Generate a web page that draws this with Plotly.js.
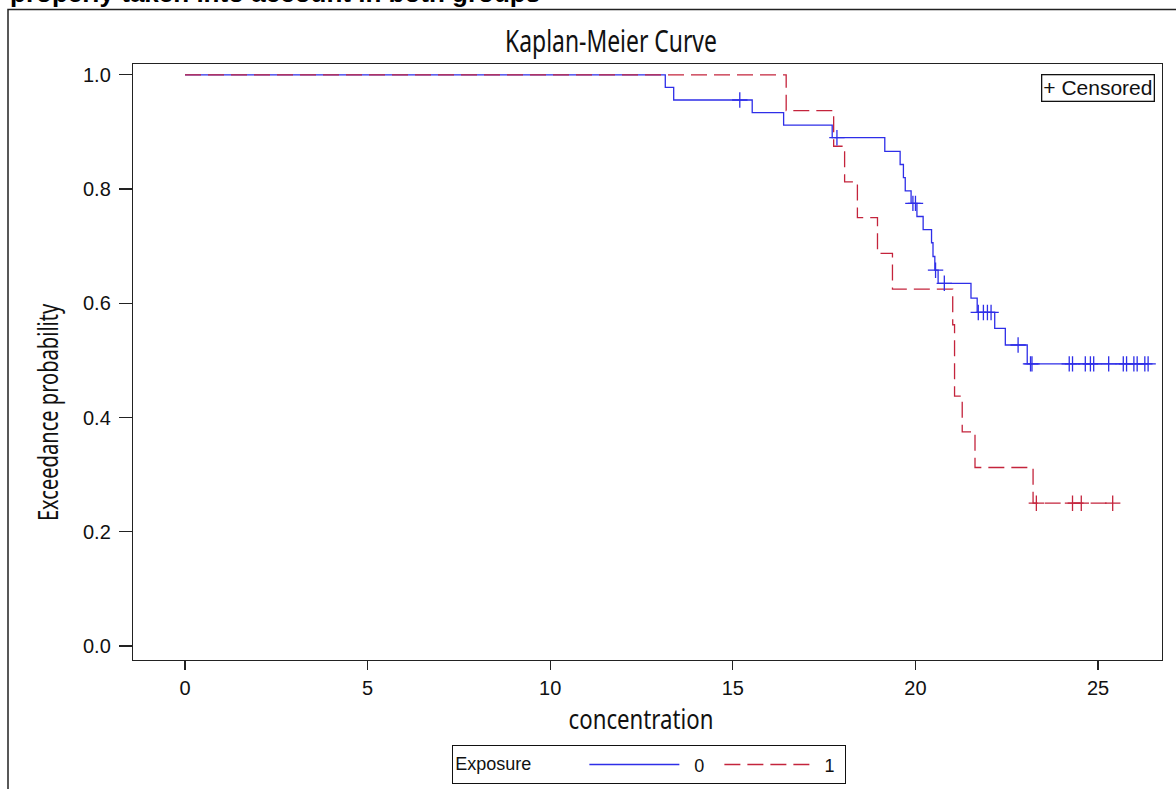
<!DOCTYPE html>
<html>
<head>
<meta charset="utf-8">
<script src="https://cdn.plot.ly/plotly-3.0.1.min.js"></script>
<style>
html,body{margin:0;padding:0;background:#fff;overflow:hidden;}
#chart{width:1176px;height:789px;}
</style>
</head>
<body>
<div id="chart"></div>
<script>
// Exposure 0 (blue): step times and survival estimates
const time0 = [0, 13.15, 13.38, 15.53, 16.39, 17.72, 19.16, 19.58, 19.67, 19.72, 19.88, 20.04, 20.21, 20.44, 20.48, 20.53, 20.62, 21.52, 21.69, 22.17, 22.46, 23.06, 26.37];
const surv0 = [1.0, 0.978, 0.956, 0.934, 0.912, 0.890, 0.866, 0.843, 0.820, 0.797, 0.775, 0.752, 0.729, 0.706, 0.682, 0.658, 0.635, 0.609, 0.584, 0.556, 0.527, 0.494, 0.494];
// Exposure 0 censored observations
const cens0x = [15.19, 17.85, 19.93, 20.00, 20.55, 20.79, 21.72, 21.86, 21.97, 22.07, 22.81, 23.15, 23.19, 24.21, 24.30, 24.65, 24.79, 24.88, 25.29, 25.69, 25.78, 25.98, 26.07, 26.28, 26.37];
const cens0y = [0.956, 0.890, 0.775, 0.775, 0.658, 0.635, 0.584, 0.584, 0.584, 0.584, 0.527, 0.494, 0.494, 0.494, 0.494, 0.494, 0.494, 0.494, 0.494, 0.494, 0.494, 0.494, 0.494, 0.494, 0.494];

// Exposure 1 (red dashed)
const time1 = [0, 16.46, 17.76, 18.06, 18.41, 18.96, 19.37, 21.02, 21.07, 21.28, 21.63, 23.22, 25.40];
const surv1 = [1.0, 0.9375, 0.875, 0.8125, 0.75, 0.6875, 0.625, 0.5625, 0.4375, 0.375, 0.3125, 0.25, 0.25];
const cens1x = [23.31, 24.30, 24.54, 25.40];
const cens1y = [0.25, 0.25, 0.25, 0.25];

const groupNames = ['0', '1'];
const xTicks = [0, 5, 10, 15, 20, 25];
const yTicks = [0.0, 0.2, 0.4, 0.6, 0.8, 1.0];
const yTickText = ['0.0', '0.2', '0.4', '0.6', '0.8', '1.0'];

const blue = '#2e2ee8';
const red = '#c4243c';
const narrow = '"Noto Sans", sans-serif';
const sans = '"Liberation Sans", Arial, sans-serif';
const NB = '\u00a0';

// pixel helpers for paper coords (plot area: x 133..1162, y 64..660)
const W = 1176, H = 789;
const L = 133, R = 1162, T = 64, B = 660;
const px = v => (v - L) / (R - L);
const py = v => (B - v) / (B - T);

const traces = [
  {x: time0, y: surv0, type: 'scatter', mode: 'lines', line: {shape: 'hv', color: blue, width: 1.3}, name: NB + NB + groupNames[0] + NB + NB, showlegend: true},
  {x: time1, y: surv1, type: 'scatter', mode: 'lines', line: {shape: 'hv', color: red, width: 1.3, dash: '16px,7px'}, name: NB + groupNames[1] + NB, showlegend: true},
  {x: cens0x, y: cens0y, type: 'scatter', mode: 'markers', marker: {symbol: 'cross-thin', size: 11, color: blue, line: {color: blue, width: 1.3}}, showlegend: false, hoverinfo: 'skip'},
  {x: cens1x, y: cens1y, type: 'scatter', mode: 'markers', marker: {symbol: 'cross-thin', size: 11, color: red, line: {color: red, width: 1.3}}, showlegend: false, hoverinfo: 'skip'}
];

const layout = {
  width: W, height: H,
  margin: {l: L, r: W - R, t: T, b: H - B},
  paper_bgcolor: '#fff', plot_bgcolor: '#fff',
  font: {family: sans, color: '#111', size: 20},
  title: {text: 'Kaplan-Meier Curve', font: {family: narrow, size: 30, color: '#111'}, x: px(611), xref: 'paper', xanchor: 'center', y: 1 - 42 / H, yref: 'container', yanchor: 'middle'},
  xaxis: {
    range: [-1.424, 26.75], tickvals: xTicks, ticktext: xTicks.map(String),
    showgrid: false, zeroline: false, showline: true, mirror: true, linecolor: '#222', linewidth: 1.2,
    ticks: 'outside', ticklen: 9, tickcolor: '#222', tickwidth: 1.2, ticklabelstandoff: 1,
    tickfont: {family: sans, size: 20, color: '#111'},
    title: {text: 'concentration', font: {family: narrow, size: 28, color: '#111'}, standoff: 8}
  },
  yaxis: {
    range: [-0.0245, 1.019], tickvals: yTicks, ticktext: yTickText,
    showgrid: false, zeroline: false, showline: true, mirror: true, linecolor: '#222', linewidth: 1.2,
    ticks: 'outside', ticklen: 13, tickcolor: '#222', tickwidth: 1.2, ticklabelstandoff: 4,
    tickfont: {family: sans, size: 20, color: '#111'}
  },
  showlegend: true,
  legend: {
    orientation: 'h', xref: 'container', yref: 'container',
    x: 649 / W, xanchor: 'center', y: 1 - 745 / H, yanchor: 'top',
    bordercolor: '#111', borderwidth: 1.3, bgcolor: '#fff',
    title: {text: 'Exposure' + NB.repeat(9), font: {family: sans, size: 18, color: '#111'}, side: 'left'},
    font: {family: sans, size: 18, color: '#111'},
    itemwidth: 90, tracegroupgap: 0, itemclick: false
  },
  annotations: [
    {text: 'Exceedance probability', textangle: -90, xref: 'paper', yref: 'paper', x: px(47), y: py(412), xanchor: 'center', yanchor: 'middle', showarrow: false, font: {family: narrow, size: 28, color: '#111'}},
    {text: '+ Censored', xref: 'paper', yref: 'paper', x: px(1155), y: py(74), xanchor: 'right', yanchor: 'top', showarrow: false, bordercolor: '#111', borderwidth: 1.3, borderpad: 1, bgcolor: '#fff', font: {family: sans, size: 21, color: '#111'}},
    {text: '<b>properly taken into account in both groups</b>', xref: 'paper', yref: 'paper', x: px(8), y: py(10), xanchor: 'left', yanchor: 'bottom', showarrow: false, font: {family: sans, size: 26, color: '#000'}}
  ],
  shapes: [
    {type: 'rect', xref: 'paper', yref: 'paper', x0: px(8), x1: px(1200), y0: py(820), y1: py(9.5), line: {color: '#222', width: 1.5}, fillcolor: 'rgba(0,0,0,0)', layer: 'below'}
  ]
};

// compress condensed-style titles horizontally to the reference widths
function squeeze(el, targetWidth, dx) {
  if (!el) return;
  const bb = el.getBBox();
  if (!bb.width) return;
  const s = targetWidth / bb.width;
  const cx = bb.x + bb.width / 2, cy = bb.y + bb.height / 2;
  const t = el.getAttribute('transform') || '';
  el.setAttribute('transform', t + ' translate(' + (cx + (dx || 0)) + ',' + cy + ') scale(' + s + ',1) translate(' + (-cx) + ',' + (-cy) + ')');
}

Plotly.newPlot('chart', traces, layout, {displayModeBar: false, staticPlot: true}).then(function (gd) {
  squeeze(gd.querySelector('.gtitle'), 212, 0);
  const xt = gd.querySelector('.xtitle');
  if (xt) {
    const bb = xt.getBBox();
    squeeze(xt, 145, 641 - (bb.x + bb.width / 2));
  }
  const yt = gd.querySelector('.annotation[data-index="0"] .annotation-text');
  squeeze(yt, 218, 0);
});
</script>
</body>
</html>
